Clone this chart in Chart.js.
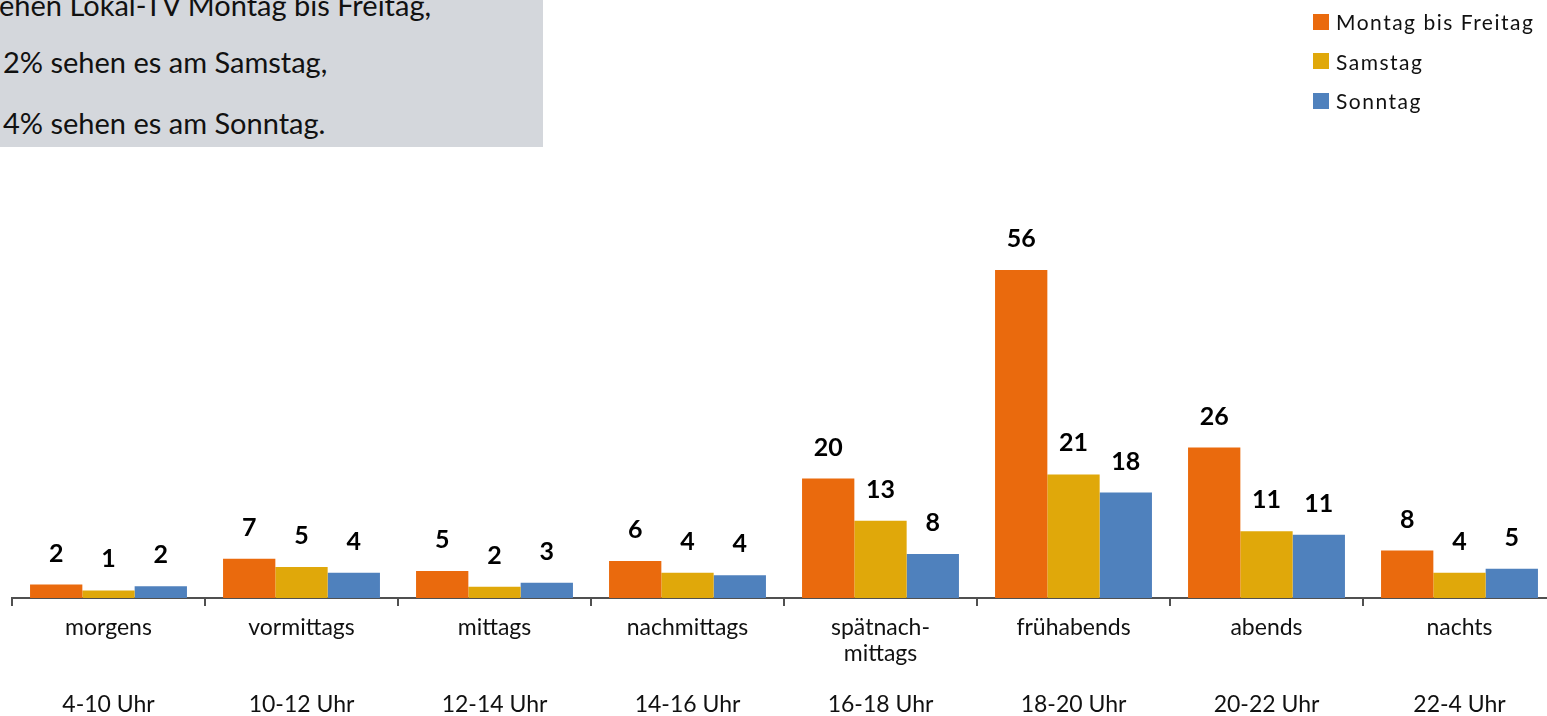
<!DOCTYPE html>
<html>
<head>
<meta charset="utf-8">
<script src="https://cdn.jsdelivr.net/npm/chart.js@4"></script>
<style>
    html, body { margin: 0; padding: 0; background: #fff; overflow: hidden; width: 1547px; height: 716px; }
    #note {
        position: absolute; left: 0; top: 0; width: 543px; height: 147px;
        background: #d4d7dc; overflow: hidden;
        font-family: Lato, sans-serif; font-size: 29px; color: #111;
    }
    #note div { position: absolute; left: 3px; white-space: nowrap; line-height: 32px; }
    #legend {
        position: absolute; left: 1313px; top: 2px;
        font-family: Lato, sans-serif; font-size: 21px; letter-spacing: 1.5px; color: #111;
    }
    #legend .item { display: flex; align-items: center; height: 39.5px; }
    #legend .box { width: 16px; height: 16px; margin-right: 7px; }
    #wrap { position: absolute; left: 0; top: 0; width: 1560px; height: 716px; }
</style>
</head>
<body>
<div id="wrap"><canvas id="chart"></canvas></div>
<div id="note">
    <div style="top:-11px; left:-1px;">ehen Lokal-TV Montag bis Freitag,</div>
    <div style="top:46px;">2% sehen es am Samstag,</div>
    <div style="top:107px;">4% sehen es am Sonntag.</div>
</div>
<div id="legend"></div>
<script>
// Lokal-TV Nutzung nach Tageszeit

const categories = [
    ['morgens', '', '', '4-10 Uhr'],
    ['vormittags', '', '', '10-12 Uhr'],
    ['mittags', '', '', '12-14 Uhr'],
    ['nachmittags', '', '', '14-16 Uhr'],
    ['spätnach-', 'mittags', '', '16-18 Uhr'],
    ['frühabends', '', '', '18-20 Uhr'],
    ['abends', '', '', '20-22 Uhr'],
    ['nachts', '', '', '22-4 Uhr']
];

const seriesNames = ['Montag bis Freitag', 'Samstag', 'Sonntag'];
const seriesColors = ['#ea6a0d', '#e0a80a', '#4f81bd'];

// bar heights
const montagFreitag = [2.3, 6.7, 4.6, 6.3, 20.4, 56, 25.7, 8.1];
const samstag = [1.3, 5.3, 1.9, 4.3, 13.2, 21.1, 11.4, 4.3];
const sonntag = [2.0, 4.3, 2.6, 3.9, 7.5, 18.0, 10.8, 5.0];

// printed value labels
const labelsMF = [2, 7, 5, 6, 20, 56, 26, 8];
const labelsSa = [1, 5, 2, 4, 13, 21, 11, 4];
const labelsSo = [2, 4, 3, 4, 8, 18, 11, 5];

const seriesValues = [montagFreitag, samstag, sonntag];
const seriesLabels = [labelsMF, labelsSa, labelsSo];

// legend
const legend = document.getElementById('legend');
seriesNames.forEach((name, i) => {
    const item = document.createElement('div');
    item.className = 'item';
    item.innerHTML = '<span class="box" style="background:' + seriesColors[i] + '"></span>' + name;
    legend.appendChild(item);
});

const valueLabels = {
    id: 'valueLabels',
    afterDatasetsDraw(chart) {
        const ctx = chart.ctx;
        ctx.save();
        ctx.font = 'bold 25px Lato, sans-serif';
        ctx.fillStyle = '#000';
        ctx.textAlign = 'center';
        ctx.textBaseline = 'middle';
        chart.data.datasets.forEach((ds, i) => {
            chart.getDatasetMeta(i).data.forEach((bar, j) => {
                ctx.fillText(String(seriesLabels[i][j]), bar.x, bar.y - 31);
            });
        });
        ctx.restore();
    }
};

const ctx = document.getElementById('chart').getContext('2d');
new Chart(ctx, {
    type: 'bar',
    data: {
        labels: categories,
        datasets: seriesNames.map((name, i) => ({
            label: name,
            data: seriesValues[i],
            backgroundColor: seriesColors[i],
            borderWidth: 0,
            categoryPercentage: 0.813,
            barPercentage: 1
        }))
    },
    options: {
        responsive: true,
        maintainAspectRatio: false,
        animation: false,
        layout: {
            padding: { left: 12, right: 4, top: 188, bottom: 0 }
        },
        plugins: {
            legend: { display: false },
            tooltip: { enabled: false }
        },
        scales: {
            x: {
                afterFit: function(axis) { axis.height = 118; },
                grid: {
                    offset: true,
                    drawOnChartArea: false,
                    drawTicks: true,
                    tickLength: 8,
                    color: '#505050',
                    lineWidth: 2
                },
                border: { display: true, color: '#505050', width: 2 },
                ticks: {
                    autoSkip: false,
                    maxRotation: 0,
                    padding: 9,
                    color: '#111',
                    font: { family: 'Lato, sans-serif', size: 23, lineHeight: 1.117 }
                }
            },
            y: {
                display: false,
                min: 0,
                max: 70
            }
        }
    },
    plugins: [valueLabels]
});
</script>
</body>
</html>
